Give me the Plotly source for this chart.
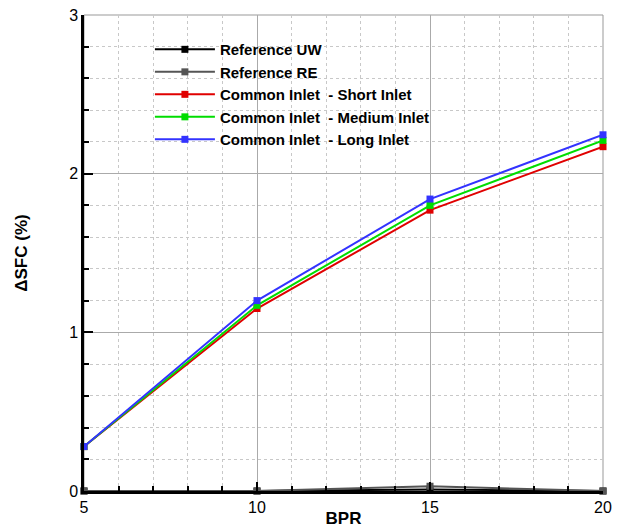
import plotly.graph_objects as go

bpr = [5, 10, 15, 20]
ref_uw = [0.0, 0.0, 0.01, 0.0]
ref_re = [0.0, 0.0, 0.03, 0.0]
short_inlet = [0.28, 1.15, 1.77, 2.17]
medium_inlet = [0.28, 1.17, 1.80, 2.21]
long_inlet = [0.28, 1.20, 1.84, 2.245]

series = [
    ("Reference UW", ref_uw, "#000000"),
    ("Reference RE", ref_re, "#555555"),
    ("Common Inlet  - Short Inlet", short_inlet, "#e00000"),
    ("Common Inlet  - Medium Inlet", medium_inlet, "#00dd00"),
    ("Common Inlet  - Long Inlet", long_inlet, "#3333ff"),
]

fig = go.Figure()
for name, ys, col in series:
    fig.add_trace(go.Scatter(
        x=bpr, y=ys, name=name, mode="lines+markers",
        line=dict(color=col, width=2),
        marker=dict(symbol="square", size=7, color=col),
        cliponaxis=False,
    ))

font = "Liberation Sans, Arial, sans-serif"
fig.update_layout(
    width=618, height=528,
    margin=dict(l=84, r=15, t=15, b=37),
    plot_bgcolor="white", paper_bgcolor="white",
    font=dict(family=font, size=14, color="black"),
    showlegend=True,
    legend=dict(
        x=0.127, y=0.962, xanchor="left", yanchor="top",
        bgcolor="rgba(0,0,0,0)", borderwidth=0,
        font=dict(family=font, size=15, color="black", weight="bold"),
        itemwidth=60, tracegroupgap=0,
    ),
    shapes=[dict(type="rect", xref="paper", yref="paper", x0=0, y0=0, x1=1, y1=1,
                 line=dict(color="#999999", width=1), layer="below")],
)
fig.update_xaxes(
    range=[5, 20], tickvals=[5, 10, 15, 20], ticktext=["5", "10", "15", "20"],
    automargin=False,
    showgrid=True, gridcolor="#aaaaaa", gridwidth=1,
    ticks="inside", ticklen=9, tickwidth=1.5, tickcolor="black",
    showline=True, linecolor="black", linewidth=2.5,
    zeroline=False,
    minor=dict(dtick=1, showgrid=True, gridcolor="#c8c8c8", griddash="dot",
               ticks="inside", ticklen=5, tickcolor="black"),
    title=dict(text="<b>BPR</b>", font=dict(size=17, family=font), standoff=0),
    tickfont=dict(size=16, family=font),
)
fig.update_yaxes(
    range=[0, 3], tickvals=[0, 1, 2, 3], ticktext=["0", "1", "2", "3"],
    automargin=False,
    showgrid=True, gridcolor="#aaaaaa", gridwidth=1,
    ticks="inside", ticklen=9, tickwidth=1.5, tickcolor="black",
    showline=True, linecolor="black", linewidth=2.5,
    zeroline=False,
    minor=dict(dtick=0.2, showgrid=True, gridcolor="#c8c8c8", griddash="dot",
               ticks="inside", ticklen=5, tickcolor="black"),
    title=dict(text="<b>ΔSFC (%)</b>", font=dict(size=17, family=font), standoff=38),
    tickfont=dict(size=16, family=font),
)

fig.write_html("out.html")
